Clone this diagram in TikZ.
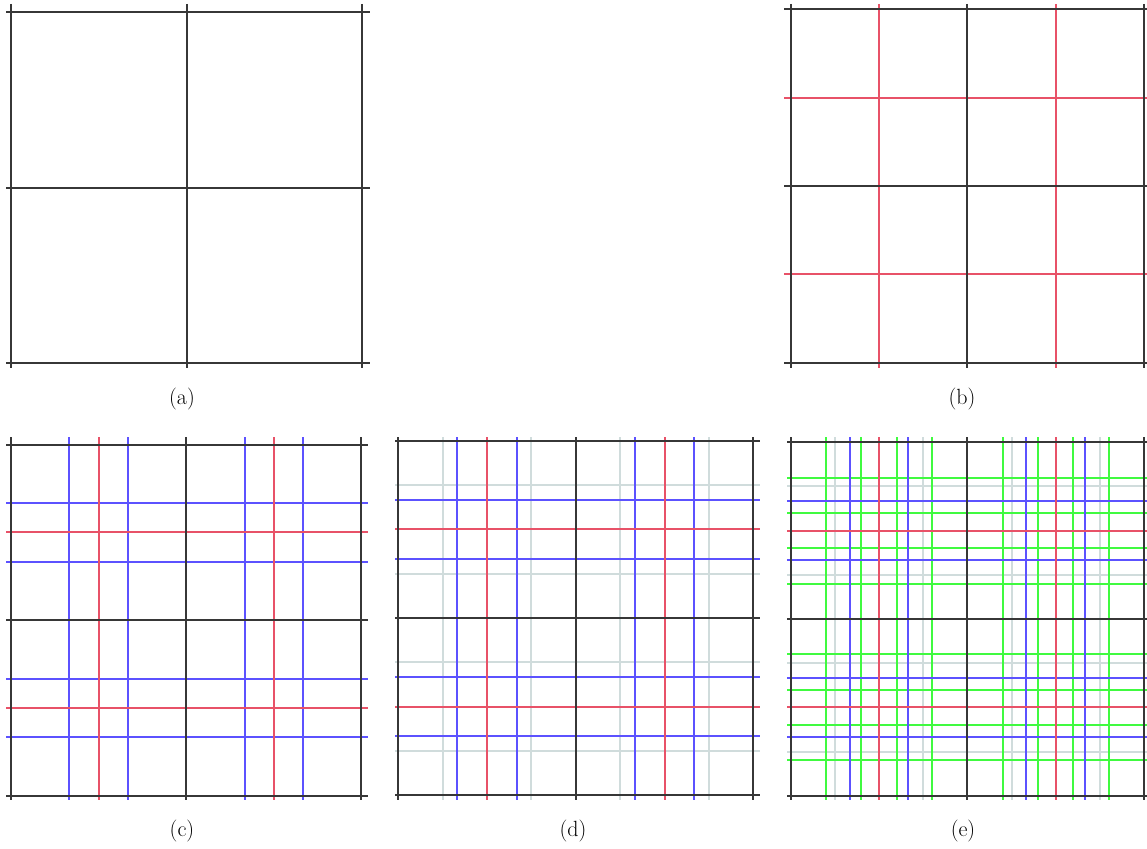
\documentclass[tikz,border=0pt]{standalone}
\definecolor{cblack}{RGB}{55,55,55}
\definecolor{cred}{RGB}{232,82,104}
\definecolor{cblue}{RGB}{92,82,255}
\definecolor{cgray}{RGB}{208,220,220}
\definecolor{cgreen}{RGB}{64,250,64}
\tikzset{
  lblack/.style={draw=cblack,line width=2pt},
  lred/.style={draw=cred,line width=2pt},
  lblue/.style={draw=cblue,line width=2pt},
  lgray/.style={draw=cgray,line width=2pt},
  lgreen/.style={draw=cgreen,line width=2pt},
  caplabel/.style={inner sep=0pt,font=\fontsize{22}{26}\selectfont}
}
% #1 L, #2 T, #3 R, #4 B, #5 hx0, #6 hx1, #7 vy0, #8 vy1, #9 list fraction/style
\newcommand\gridpanel[9]{%
  \foreach \f/\st in {#9}{%
    \draw[\st] ({round(#1+\f*(#3-#1))},#7) -- ({round(#1+\f*(#3-#1))},#8);
    \draw[\st] (#5,{round(#2+\f*(#4-#2))}) -- (#6,{round(#2+\f*(#4-#2))});
  }%
}
\begin{document}
\begin{tikzpicture}[x=1pt,y=-1pt]
\useasboundingbox (0,0) rectangle (1147,848);
% (a)
\gridpanel{11}{12}{362}{363}{6}{370}{4}{368}{0/lblack,0.5/lblack,1/lblack}
% (b)
\gridpanel{790.7}{9.3}{1144}{362.7}{784}{1147}{4}{368}{0.25/lred,0.75/lred,0/lblack,0.5/lblack,1/lblack}
% (c)
\gridpanel{11}{444.7}{361.3}{795.7}{6}{368}{437}{800}{0.1667/lblue,0.3333/lblue,0.6667/lblue,0.8333/lblue,0.25/lred,0.75/lred,0/lblack,0.5/lblack,1/lblack}
% (d)
\gridpanel{398.3}{440.7}{753.3}{795.3}{395}{760}{437}{800}{0.125/lgray,0.375/lgray,0.625/lgray,0.875/lgray,0.1667/lblue,0.3333/lblue,0.6667/lblue,0.8333/lblue,0.25/lred,0.75/lred,0/lblack,0.5/lblack,1/lblack}
% (e)
\gridpanel{790.7}{442.3}{1144}{795.7}{787}{1147}{437}{800}{0.125/lgray,0.375/lgray,0.625/lgray,0.875/lgray,0.1/lgreen,0.2/lgreen,0.3/lgreen,0.4/lgreen,0.6/lgreen,0.7/lgreen,0.8/lgreen,0.9/lgreen,0.1667/lblue,0.3333/lblue,0.6667/lblue,0.8333/lblue,0.25/lred,0.75/lred,0/lblack,0.5/lblack,1/lblack}
% captions
\node[caplabel] (capa) at (182,399) {(a)};
\node[caplabel] (capb) at (962,399) {(b)};
\node[caplabel] (capc) at (182,831) {(c)};
\node[caplabel] (capd) at (573,831) {(d)};
\node[caplabel] (cape) at (963,831) {(e)};
\end{tikzpicture}
\end{document}
